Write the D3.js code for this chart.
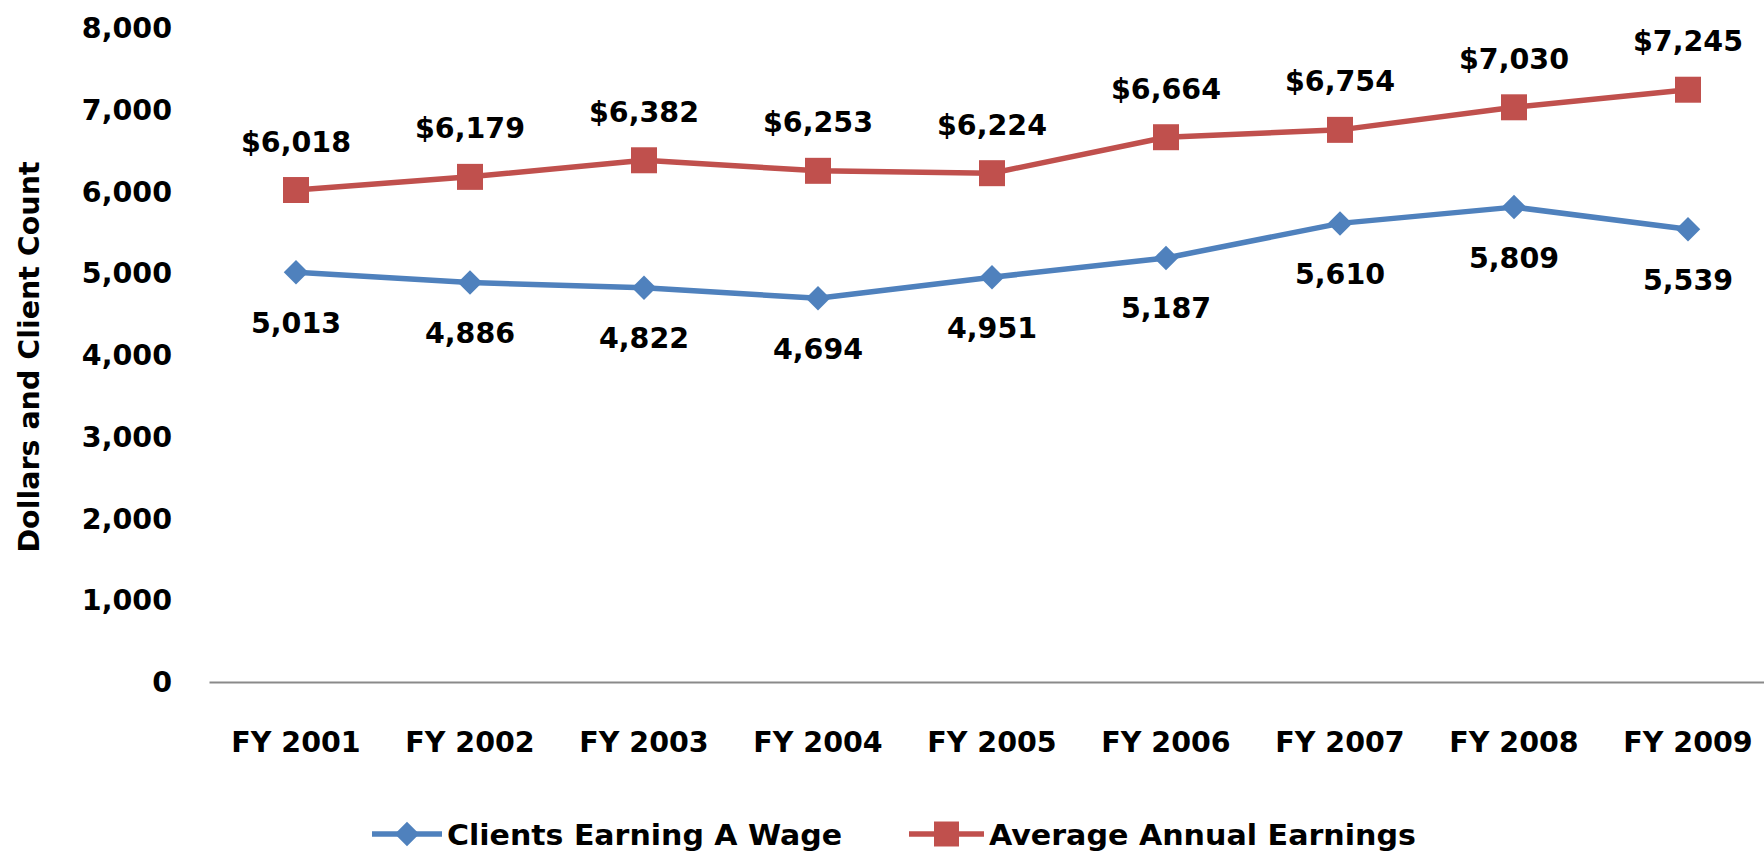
<!DOCTYPE html>
<html>
<head>
<meta charset="utf-8">
<script src="https://cdn.jsdelivr.net/npm/d3@7"></script>
<style>
html,body{margin:0;padding:0;background:#fff;}
svg text{font-family:"DejaVu Sans",sans-serif;font-weight:bold;font-size:28.5px;fill:#000;}
</style>
</head>
<body>
<svg id="chart" width="1764" height="852"></svg>
<script>
const categories = ["FY 2001","FY 2002","FY 2003","FY 2004","FY 2005","FY 2006","FY 2007","FY 2008","FY 2009"];
const clientsEarningWage = [5013,4886,4822,4694,4951,5187,5610,5809,5539];
const averageAnnualEarnings = [6018,6179,6382,6253,6224,6664,6754,7030,7245];
const yTicks = [0,1000,2000,3000,4000,5000,6000,7000,8000];
const seriesNames = ["Clients Earning A Wage","Average Annual Earnings"];
const yTitle = "Dollars and Client Count";

const BLUE = "#4F81BD", RED = "#C0504D";
const svg = d3.select("#chart");

const x = d3.scaleBand().domain(categories).range([209, 1775]).padding(0);
const y = d3.scaleLinear().domain([0, 8000]).range([682, 28]);
const cx = c => x(c) + x.bandwidth() / 2;

// Y axis (labels only)
const yAxis = svg.append("g").attr("transform", "translate(209,0)")
  .call(d3.axisLeft(y).tickValues(yTicks).tickFormat(d3.format(",")).tickSize(0).tickPadding(37));
yAxis.select(".domain").remove();
yAxis.selectAll("text").attr("dy", null).attr("y", 9.5)
  .style("font-family", "DejaVu Sans").style("font-size", "28.5px").style("font-weight", "bold").attr("fill", "#000");

// X axis
const xAxis = svg.append("g").attr("transform", "translate(0,682)")
  .call(d3.axisBottom(x).tickSize(0).tickSizeOuter(0));
xAxis.select(".domain").attr("stroke", "#8a8a8a").attr("stroke-width", 2.2);
xAxis.selectAll("text").attr("dy", null).attr("y", 69.5)
  .style("font-family", "DejaVu Sans").style("font-size", "28.5px").style("font-weight", "bold").attr("fill", "#000");

// Y title
svg.append("text")
  .attr("transform", "translate(38.5,357) rotate(-90)")
  .attr("text-anchor", "middle")
  .text(yTitle);

const line = d3.line().x((d, i) => cx(categories[i])).y(d => y(d));

// Blue series
svg.append("path").datum(clientsEarningWage).attr("d", line)
  .attr("fill", "none").attr("stroke", BLUE).attr("stroke-width", 5.5).attr("stroke-linejoin", "round");
const diamond = d3.symbol().type(d3.symbolSquare).size(300);
svg.selectAll(".bmark").data(clientsEarningWage).join("path")
  .attr("d", diamond)
  .attr("transform", (d, i) => `translate(${cx(categories[i])},${y(d)}) rotate(45)`)
  .attr("fill", BLUE);
svg.selectAll(".blab").data(clientsEarningWage).join("text")
  .attr("x", (d, i) => cx(categories[i]))
  .attr("y", d => y(d) + 60.5)
  .attr("text-anchor", "middle")
  .text(d => d3.format(",")(d));

// Red series
svg.append("path").datum(averageAnnualEarnings).attr("d", line)
  .attr("fill", "none").attr("stroke", RED).attr("stroke-width", 5.5).attr("stroke-linejoin", "round");
const square = d3.symbol().type(d3.symbolSquare).size(26 * 26);
svg.selectAll(".rmark").data(averageAnnualEarnings).join("path")
  .attr("d", square)
  .attr("transform", (d, i) => `translate(${cx(categories[i])},${y(d)})`)
  .attr("fill", RED);
svg.selectAll(".rlab").data(averageAnnualEarnings).join("text")
  .attr("x", (d, i) => cx(categories[i]))
  .attr("y", d => y(d) - 38.5)
  .attr("text-anchor", "middle")
  .text(d => "$" + d3.format(",")(d));

// Legend
const legend = svg.append("g");
const items = [
  {name: seriesNames[0], color: BLUE, x0: 372, x1: 442, mark: "diamond", w: 395},
  {name: seriesNames[1], color: RED, x0: 909, x1: 984, mark: "square", w: 427}
];
items.forEach(it => {
  const g = legend.append("g");
  g.append("line").attr("x1", it.x0).attr("x2", it.x1).attr("y1", 834).attr("y2", 834)
    .attr("stroke", it.color).attr("stroke-width", 5.5);
  const mx = (it.x0 + it.x1) / 2;
  if (it.mark === "diamond") {
    g.append("path").attr("d", d3.symbol().type(d3.symbolSquare).size(300))
      .attr("transform", `translate(${mx},834) rotate(45)`).attr("fill", it.color);
  } else {
    g.append("path").attr("d", d3.symbol().type(d3.symbolSquare).size(25 * 25))
      .attr("transform", `translate(${mx},834)`).attr("fill", it.color);
  }
  g.append("text").attr("x", it.x1 + 5).attr("y", 845)
    .attr("textLength", it.w).attr("lengthAdjust", "spacingAndGlyphs")
    .text(it.name);
});
</script>
</body>
</html>
